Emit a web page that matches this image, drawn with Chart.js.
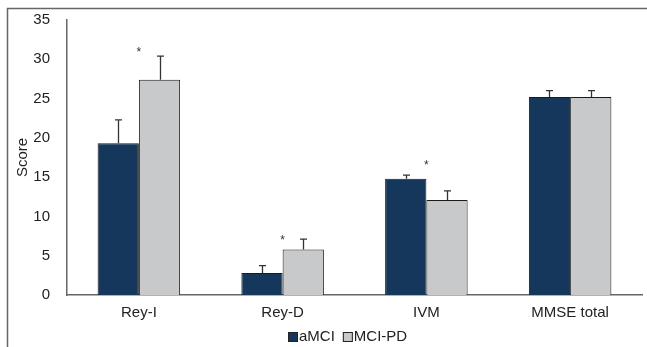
<!DOCTYPE html>
<html>
<head>
<meta charset="utf-8">
<script src="https://cdn.jsdelivr.net/npm/chart.js@4.4.1/dist/chart.umd.min.js"></script>
<style>
html,body{margin:0;padding:0;background:#fff;}
#wrap{width:647px;height:347px;position:relative;}
</style>
</head>
<body>
<div id="wrap"><canvas id="c" width="647" height="347"></canvas></div>
<script>
const categories = ["Rey-I", "Rey-D", "IVM", "MMSE total"];
const seriesNames = ["aMCI", "MCI-PD"];
const aMCI = [19.3, 2.8, 14.8, 25.2];
const aMCIErr = [3.0, 0.95, 0.45, 0.8];
const mciPD = [27.4, 5.8, 12.1, 25.2];
const mciPDErr = [3.0, 1.3, 1.15, 0.8];
const starValues = [31.3, 7.4, 16.9, null];
const yTicks = [0, 5, 10, 15, 20, 25, 30, 35];

const FONT = "'Liberation Sans', Arial, Helvetica, sans-serif";
const errors = [aMCIErr, mciPDErr];

const framePlugin = {
  id: 'frame',
  beforeDraw(chart) {
    const ctx = chart.ctx;
    ctx.save();
    ctx.strokeStyle = '#666';
    ctx.lineWidth = 1.5;
    ctx.beginPath();
    ctx.moveTo(7.5, 347);
    ctx.lineTo(7.5, 8.5);
    ctx.lineTo(647, 8.5);
    ctx.stroke();
    ctx.restore();
  }
};

const errorPlugin = {
  id: 'errs',
  afterDatasetsDraw(chart) {
    const ctx = chart.ctx;
    const ys = chart.scales.y, xs = chart.scales.x;
    ctx.save();
    ctx.strokeStyle = '#333';
    ctx.lineWidth = 1.3;
    chart.data.datasets.forEach((ds, di) => {
      const meta = chart.getDatasetMeta(di);
      meta.data.forEach((bar, i) => {
        const top = ys.getPixelForValue(ds.data[i] + errors[di][i]);
        const x = Math.round(bar.x) + 0.5;
        ctx.beginPath();
        ctx.moveTo(x, bar.y);
        ctx.lineTo(x, top);
        ctx.moveTo(x - 3.5, top);
        ctx.lineTo(x + 3.5, top);
        ctx.stroke();
      });
    });
    // significance stars
    ctx.fillStyle = '#333';
    ctx.font = '12px ' + FONT;
    ctx.textAlign = 'center';
    ctx.textBaseline = 'alphabetic';
    starValues.forEach((v, i) => {
      if (v === null) return;
      const x = xs.getPixelForValue(i);
      const y = ys.getPixelForValue(v);
      ctx.fillText('*', x, y + 7);
    });
    // legend
    const colors = chart.data.datasets.map(d => d.backgroundColor);
    ctx.font = '15px ' + FONT;
    ctx.textAlign = 'left';
    ctx.textBaseline = 'middle';
    let lx = 288;
    const ly = 337;
    seriesNames.forEach((name, i) => {
      ctx.fillStyle = colors[i];
      ctx.fillRect(lx, ly - 5, 10, 10);
      ctx.strokeStyle = '#222';
      ctx.lineWidth = 1;
      ctx.strokeRect(lx + 0.5, ly - 4.5, 9, 9);
      ctx.fillStyle = '#222';
      ctx.fillText(name, lx + 11, ly);
      lx += 11 + ctx.measureText(name).width + 8;
    });
    ctx.restore();
  }
};

new Chart(document.getElementById('c'), {
  type: 'bar',
  data: {
    labels: categories,
    datasets: [
      { label: seriesNames[0], data: aMCI, backgroundColor: '#14375b', borderColor: '#1a1a1a', borderWidth: 1 },
      { label: seriesNames[1], data: mciPD, backgroundColor: '#c8c9cb', borderColor: '#1a1a1a', borderWidth: 1 }
    ]
  },
  options: {
    responsive: false,
    animation: false,
    devicePixelRatio: 1,
    layout: { padding: { left: 0, top: 20, right: 5, bottom: 0 } },
    datasets: { bar: { categoryPercentage: 0.574, barPercentage: 1.0 } },
    plugins: { legend: { display: false }, tooltip: { enabled: false } },
    scales: {
      x: {
        grid: { display: false, drawTicks: false },
        border: { display: true, color: '#666', width: 1.5 },
        ticks: { color: '#222', font: { family: FONT, size: 15 }, padding: 9, maxRotation: 0 },
        afterFit(s) { s.height = 52; s.paddingLeft = 0; s.paddingRight = 0; }
      },
      y: {
        min: 0, max: 35,
        afterBuildTicks(s) { s.ticks = yTicks.map(v => ({ value: v })); },
        grid: { display: false, drawTicks: false },
        border: { display: true, color: '#666', width: 1.5 },
        ticks: { color: '#222', font: { family: FONT, size: 15 }, padding: 17 },
        title: { display: true, text: 'Score', color: '#222', font: { family: FONT, size: 15 }, padding: { top: 14, bottom: 0 } },
        afterFit(s) { s.width = 67; s.paddingTop = 0; s.paddingBottom = 0; }
      }
    }
  },
  plugins: [framePlugin, errorPlugin]
});
</script>
</body>
</html>
